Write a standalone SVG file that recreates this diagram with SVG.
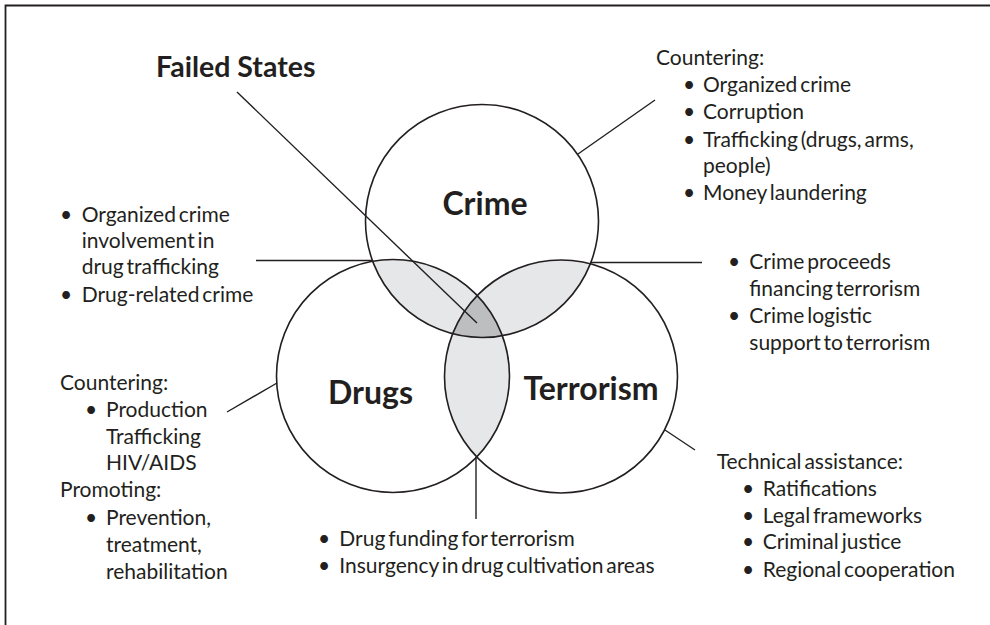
<svg xmlns="http://www.w3.org/2000/svg" width="990" height="625" viewBox="0 0 990 625">
  <style>
    text { font-family: Lato, "Open Sans", "Liberation Sans", sans-serif; fill: #231f20; }
    .body { font-size: 21px; word-spacing: -2.5px; }
    .title { font-size: 32px; font-weight: bold; }
    .head { font-size: 28.5px; font-weight: bold; }
    .ring { fill: none; stroke: #231f20; stroke-width: 1.6; }
    .lead { stroke: #231f20; stroke-width: 1.4; fill: none; }
  </style>
  <defs>
    <clipPath id="clipCrime"><circle cx="482" cy="221" r="116.5"/></clipPath>
    <clipPath id="clipDrugs"><circle cx="393" cy="376" r="116.5"/></clipPath>
  </defs>
  <rect width="990" height="625" fill="#ffffff"/>
  <!-- frame: top and left edges only -->
  <path d="M5.5,625 V5.5 H990" fill="none" stroke="#231f20" stroke-width="1.8"/>

  <!-- overlap shading: pairwise light, triple darker -->
  <g id="overlaps">
    <g clip-path="url(#clipCrime)">
      <circle cx="393" cy="376" r="116.5" fill="#e6e7e8"/>
      <circle cx="561" cy="376.5" r="116.5" fill="#e6e7e8"/>
    </g>
    <g clip-path="url(#clipDrugs)">
      <circle cx="561" cy="376.5" r="116.5" fill="#e6e7e8"/>
      <g clip-path="url(#clipCrime)">
        <circle cx="561" cy="376.5" r="116.5" fill="#bcbec0"/>
      </g>
    </g>
  </g>

  <g id="crime">
    <circle class="ring" cx="482" cy="221" r="116.5"/>
    <text class="title" x="485" y="215" text-anchor="middle">Crime</text>
  </g>
  <g id="drugs">
    <circle class="ring" cx="393" cy="376" r="116.5"/>
    <text class="title" x="370.5" y="404" text-anchor="middle">Drugs</text>
  </g>
  <g id="terrorism">
    <circle class="ring" cx="561" cy="376.5" r="116.5"/>
    <text class="title" x="591" y="400" text-anchor="middle">Terrorism</text>
  </g>

  <g id="connectors">
    <line class="lead" x1="237" y1="92" x2="477" y2="323"/>
    <line class="lead" x1="578" y1="154" x2="655" y2="100"/>
    <line class="lead" x1="256" y1="260.5" x2="372" y2="260.5"/>
    <line class="lead" x1="590" y1="262.5" x2="702" y2="262.5"/>
    <line class="lead" x1="227" y1="412" x2="277" y2="383"/>
    <line class="lead" x1="665" y1="430" x2="695" y2="450"/>
    <line class="lead" x1="476" y1="457" x2="476" y2="519"/>
  </g>

  <g id="failed-states">
    <text class="head" x="156" y="77">Failed States</text>
  </g>

  <g id="crime-notes" class="body">
    <text x="656" y="65">Countering:</text>
    <text x="683" y="91.7">•</text><text x="703" y="91.7">Organized crime</text>
    <text x="683" y="119.3">•</text><text x="703" y="119.3">Corruption</text>
    <text x="683" y="146.7">•</text><text x="703" y="146.7">Trafficking (drugs, arms,</text>
    <text x="703" y="173.3">people)</text>
    <text x="683" y="200">•</text><text x="703" y="200">Money laundering</text>
  </g>

  <g id="crime-drugs-notes" class="body">
    <text x="60" y="221.7">•</text><text x="81.7" y="221.7">Organized crime</text>
    <text x="81.7" y="248.3">involvement in</text>
    <text x="81.7" y="274.3">drug trafficking</text>
    <text x="60" y="301.7">•</text><text x="81.7" y="301.7">Drug-related crime</text>
  </g>

  <g id="crime-terrorism-notes" class="body">
    <text x="728" y="269.3">•</text><text x="749.3" y="269.3">Crime proceeds</text>
    <text x="749.3" y="296">financing terrorism</text>
    <text x="728" y="323.3">•</text><text x="749.3" y="323.3">Crime logistic</text>
    <text x="749.3" y="350">support to terrorism</text>
  </g>

  <g id="drugs-notes" class="body">
    <text x="60" y="390">Countering:</text>
    <text x="85" y="416.7">•</text><text x="106" y="416.7">Production</text>
    <text x="106" y="444">Trafficking</text>
    <text x="106" y="470">HIV/AIDS</text>
    <text x="60" y="496.7">Promoting:</text>
    <text x="85" y="525">•</text><text x="106" y="525">Prevention,</text>
    <text x="106" y="552">treatment,</text>
    <text x="106" y="578.7">rehabilitation</text>
  </g>

  <g id="drugs-terrorism-notes" class="body">
    <text x="318" y="546">•</text><text x="339.3" y="546">Drug funding for terrorism</text>
    <text x="318" y="572.7">•</text><text x="339.3" y="572.7">Insurgency in drug cultivation areas</text>
  </g>

  <g id="terrorism-notes" class="body">
    <text x="716.7" y="469.3">Technical assistance:</text>
    <text x="742" y="496">•</text><text x="762.7" y="496">Ratifications</text>
    <text x="742" y="522.7">•</text><text x="762.7" y="522.7">Legal frameworks</text>
    <text x="742" y="549.3">•</text><text x="762.7" y="549.3">Criminal justice</text>
    <text x="742" y="576.7">•</text><text x="762.7" y="576.7">Regional cooperation</text>
  </g>
</svg>
